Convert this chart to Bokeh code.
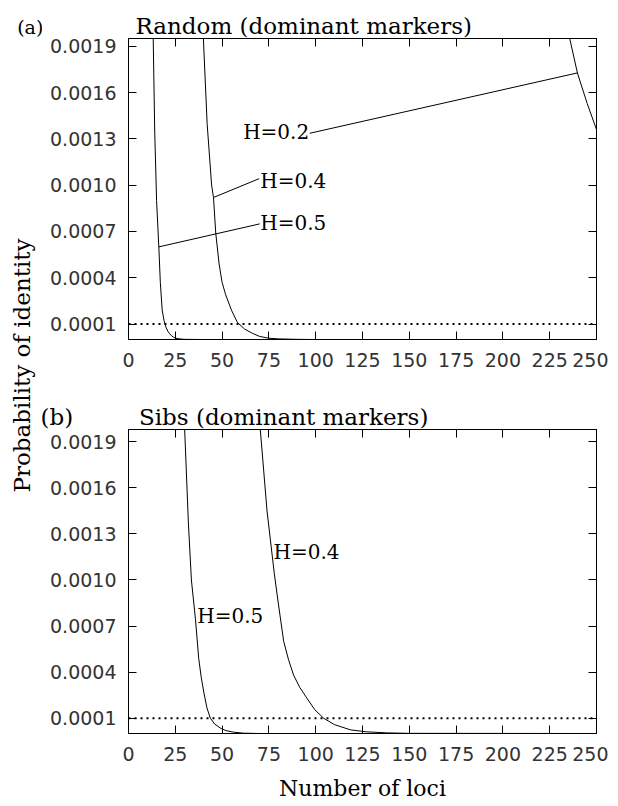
import math
from bokeh.plotting import figure
from bokeh.models import Range1d, FixedTicker, LinearAxis, Span, Label, PrintfTickFormatter, Title
from bokeh.layouts import row, column
from bokeh.embed import file_html
from bokeh.resources import INLINE

# ---------------- data ----------------
x_ticks = [0, 25, 50, 75, 100, 125, 150, 175, 200, 225, 250]
y_ticks = [0.0001, 0.0004, 0.0007, 0.0010, 0.0013, 0.0016, 0.0019]
threshold = 0.0001

# (a) Random (dominant markers)
rand_h05_loci = [13.2, 14.0, 15.0, 16.2, 17.0, 18.0, 19.0, 20.0, 21.0, 22.0, 23.0, 24.0, 25.0, 27.0, 30.0, 40.0, 250.0]
rand_h05_pi = [0.00195, 0.00135, 0.00090, 0.00060, 0.00037, 0.00019, 0.000122, 0.000080, 0.000054,
               0.000037, 0.000024, 0.000015, 0.000009, 0.000004, 0.000001, 0.0, 0.0]
rand_h04_loci = [40.0, 42.0, 44.4, 45.4, 46.6, 48.4, 50.0, 51.9, 55.0, 58.2, 62.0, 66.2, 70.0, 75.0, 80.0, 90.0, 100.0, 250.0]
rand_h04_pi = [0.00195, 0.00140, 0.00100, 0.00092, 0.00069, 0.00049, 0.00037, 0.00029, 0.00019, 0.00011,
               0.000068, 0.000040, 0.000020, 0.0000085, 0.000004, 0.000001, 0.0, 0.0]
rand_h02_loci = [235.7, 239.8, 245.0, 250.0]
rand_h02_pi = [0.00195, 0.001727, 0.00153, 0.00136]

rand_labels = ["H=0.2", "H=0.4", "H=0.5"]
rand_label_x = [96.5, 70.4, 70.4]
rand_label_y = [0.001344, 0.001024, 0.000753]
rand_label_align = ["right", "left", "left"]
rand_leader_x0 = [96.8, 45.4, 16.2]
rand_leader_y0 = [0.001336, 0.00092, 0.00060]
rand_leader_x1 = [239.8, 69.8, 70.1]
rand_leader_y1 = [0.001727, 0.001042, 0.000749]

# (b) Sibs (dominant markers)
sibs_h05_loci = [30.0, 32.0, 33.6, 35.8, 37.5, 38.8, 40.2, 41.9, 43.7, 46.0, 49.1, 52.0, 56.2, 61.5, 70.0, 250.0]
sibs_h05_pi = [0.00198, 0.00137, 0.00100, 0.00074, 0.00049, 0.00037, 0.00027, 0.000167, 0.00010, 0.000062,
               0.000035, 0.000019, 0.0000085, 0.000002, 0.0, 0.0]
sibs_h04_loci = [70.4, 74.0, 77.9, 80.0, 82.9, 85.5, 88.2, 91.5, 95.3, 99.5, 104.2, 110.0, 118.5, 127.0, 138.0, 150.0, 250.0]
sibs_h04_pi = [0.00198, 0.00145, 0.00104, 0.00085, 0.00060, 0.00048, 0.00038, 0.00030, 0.00023, 0.000155,
               0.00010, 0.000058, 0.000024, 0.000011, 0.000004, 0.000001, 0.0]

sibs_labels = ["H=0.4", "H=0.5"]
sibs_label_x = [77.5, 36.7]
sibs_label_y = [0.001183, 0.000763]

# ---------------- styling ----------------
SERIF = "DejaVu Serif"
SANS = "DejaVu Sans"
TICK_FS = "19px"
NBSP = "\u00a0"


def make_panel(height, ymax, border_top, border_bottom, title, title_offset):
    p = figure(width=566, height=height, x_range=Range1d(0, 250), y_range=Range1d(0, ymax),
               output_backend="svg", toolbar_location=None,
               min_border_left=86, min_border_right=12,
               min_border_top=border_top, min_border_bottom=border_bottom)
    p.grid.visible = False
    p.outline_line_color = "black"
    p.xaxis.ticker = FixedTicker(ticks=x_ticks)
    p.yaxis.ticker = FixedTicker(ticks=y_ticks)
    p.yaxis.formatter = PrintfTickFormatter(format="%.4f")
    for ax in (p.xaxis, p.yaxis):
        ax.major_tick_in = 8
        ax.major_tick_out = 0
        ax.minor_tick_line_color = None
        ax.axis_line_color = "black"
        ax.major_tick_line_color = "black"
        ax.major_label_text_font = SANS
        ax.major_label_text_font_size = TICK_FS
        ax.major_label_text_color = "#333333"
    p.xaxis.major_label_standoff = 13
    p.yaxis.major_label_standoff = 12

    top = LinearAxis(ticker=FixedTicker(ticks=x_ticks), major_label_text_font_size="0px",
                     major_label_text_color=None,
                     major_label_standoff=0, major_tick_in=8, major_tick_out=0,
                     minor_tick_line_color=None, axis_line_color="black")
    p.add_layout(top, "above")
    right = LinearAxis(ticker=FixedTicker(ticks=y_ticks), major_label_text_font_size="0px",
                       major_label_text_color=None,
                       major_label_standoff=0, major_tick_in=8, major_tick_out=0,
                       minor_tick_line_color=None, axis_line_color="black")
    p.add_layout(right, "right")

    p.add_layout(Title(text=title, align="left", offset=title_offset, text_font=SERIF,
                       text_font_size="23px", text_font_style="normal", text_color="black",
                       standoff=0), "above")

    p.add_layout(Span(location=threshold, dimension="width", line_color="black",
                      line_width=2, line_dash="2 4"))
    return p


# ---------------- panel (a) ----------------
fa = make_panel(395, 0.00195, 38, 56, "Random (dominant markers)", 7)
fa.line(rand_h05_loci, rand_h05_pi, line_color="black", line_width=1)
fa.line(rand_h04_loci, rand_h04_pi, line_color="black", line_width=1)
fa.line(rand_h02_loci, rand_h02_pi, line_color="black", line_width=1)
fa.segment(x0=rand_leader_x0, y0=rand_leader_y0, x1=rand_leader_x1, y1=rand_leader_y1,
           line_color="black", line_width=1)
for t, x, y, a in zip(rand_labels, rand_label_x, rand_label_y, rand_label_align):
    fa.add_layout(Label(x=x, y=y, text=t, text_font=SERIF, text_font_size="20px",
                        text_align=a, text_baseline="middle", text_color="black"))

# ---------------- panel (b) ----------------
sibs_title = "(b)" + NBSP * 9 + "Sibs (dominant markers)"
fb = make_panel(410, 0.00198, 34, 72, sibs_title, -88)
fb.line(sibs_h05_loci, sibs_h05_pi, line_color="black", line_width=1)
fb.line(sibs_h04_loci, sibs_h04_pi, line_color="black", line_width=1)
for t, x, y in zip(sibs_labels, sibs_label_x, sibs_label_y):
    fb.add_layout(Label(x=x, y=y, text=t, text_font=SERIF, text_font_size="20px",
                        text_align="left", text_baseline="middle", text_color="black"))
fb.below[0].axis_label = "Number of loci"
fb.below[0].axis_label_text_font = SERIF
fb.below[0].axis_label_text_font_size = "22px"
fb.below[0].axis_label_text_font_style = "normal"
fb.below[0].axis_label_text_color = "black"
fb.below[0].axis_label_standoff = 12

# ---------------- left strip with shared y label ----------------
STRIP_H = 805
strip = figure(width=42, height=STRIP_H, x_range=Range1d(0, 1), y_range=Range1d(0, 1),
               output_backend="svg", toolbar_location=None, min_border=0,
               x_axis_type=None, y_axis_type=None)
strip.outline_line_color = None
strip.grid.visible = False
strip.add_layout(Label(x=0.5, y=0.5466, text="Probability of identity", angle=math.pi / 2,
                       text_font=SERIF, text_font_size="23px", text_align="center",
                       text_baseline="middle", text_color="black"))
strip.add_layout(Label(x=0.3976, y=0.9665, text="(a)", text_font=SERIF, text_font_size="19px",
                       text_align="left", text_baseline="middle", text_color="black"))

layout = row(strip, column(fa, fb))

with open("out.html", "w") as f:
    f.write(file_html(layout, INLINE))
